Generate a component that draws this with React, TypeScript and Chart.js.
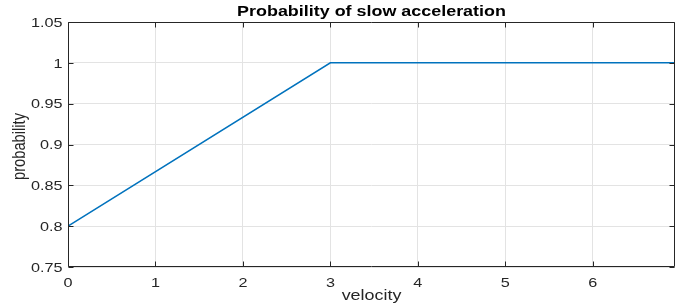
import React, { useEffect, useRef } from "react";
import { Chart, registerables } from "chart.js";

Chart.register(...registerables);

const velocity = [0, 3, 7];
const probability = [0.8, 1, 1];
const xRange = [0, 6.94];
const yRange = [0.75, 1.05];
const titleText = "Probability of slow acceleration";
const xTitle = "velocity";
const yTitle = "probability";

const STRETCH = 1.22;
const TXT = "#262626";

function stretchedText(ctx: CanvasRenderingContext2D, text: string, x: number, y: number, align: CanvasTextAlign) {
  ctx.save();
  ctx.translate(x, y);
  ctx.scale(STRETCH, 1);
  ctx.textAlign = align;
  ctx.fillText(text, 0, 0);
  ctx.restore();
}

const fmt = (v: number) => parseFloat(v.toFixed(2)).toString();

const decorPlugin = {
  id: "matlabDecor",
  afterDraw(chart: any) {
    const ctx: CanvasRenderingContext2D = chart.ctx;
    const a = chart.chartArea;
    const xs = chart.scales.x;
    const ys = chart.scales.y;
    const L = Math.round(a.left) + 0.5;
    const R = Math.round(a.right) - 0.5;
    const T = Math.round(a.top) + 0.5;
    const B = Math.round(a.bottom) - 0.5;
    ctx.save();
    ctx.strokeStyle = TXT;
    ctx.lineWidth = 1;
    ctx.beginPath();
    ctx.rect(L, T, R - L, B - T);
    ctx.stroke();
    const tl = 5;
    ctx.beginPath();
    xs.ticks.forEach((t: any) => {
      if (t.value > xs.max + 1e-9) return;
      const px = Math.round(xs.getPixelForValue(t.value)) + 0.5;
      ctx.moveTo(px, B);
      ctx.lineTo(px, B - tl);
      ctx.moveTo(px, T);
      ctx.lineTo(px, T + tl);
    });
    ys.ticks.forEach((t: any) => {
      const py = Math.round(ys.getPixelForValue(t.value)) + 0.5;
      ctx.moveTo(L, py);
      ctx.lineTo(L + tl, py);
      ctx.moveTo(R, py);
      ctx.lineTo(R - tl, py);
    });
    ctx.stroke();

    ctx.fillStyle = TXT;
    ctx.font = '13.3px "Liberation Sans", Arial, sans-serif';
    ctx.textBaseline = "alphabetic";
    xs.ticks.forEach((t: any) => {
      if (t.value > xs.max + 1e-9) return;
      const px = xs.getPixelForValue(t.value);
      stretchedText(ctx, fmt(t.value), px, B + 20.5, "center");
    });
    ys.ticks.forEach((t: any) => {
      const py = ys.getPixelForValue(t.value);
      stretchedText(ctx, fmt(t.value), L - 6, py + 4.7, "right");
    });

    ctx.font = '14.7px "Liberation Sans", Arial, sans-serif';
    const cx = (a.left + a.right) / 2;
    stretchedText(ctx, xTitle, cx, 299.5, "center");

    ctx.save();
    ctx.translate(25, (a.top + a.bottom) / 2 + 2);
    ctx.rotate(-Math.PI / 2);
    ctx.scale(1, STRETCH);
    ctx.textAlign = "center";
    ctx.textBaseline = "alphabetic";
    ctx.fillText(yTitle, 0, 0);
    ctx.restore();

    ctx.fillStyle = "#000";
    ctx.font = 'bold 14.7px "Liberation Sans", Arial, sans-serif';
    stretchedText(ctx, titleText, cx, 16, "center");
    ctx.restore();
  },
};

export default function App() {
  const ref = useRef<HTMLCanvasElement | null>(null);
  useEffect(() => {
    document.body.style.margin = "0";
    const canvas = ref.current!;
    const chart = new Chart(canvas, {
      type: "line",
      data: {
        datasets: [
          {
            data: velocity.map((v, i) => ({ x: v, y: probability[i] })),
            borderColor: "#0072BD",
            borderWidth: 1.5,
            pointRadius: 0,
            tension: 0,
            fill: false,
          },
        ],
      },
      options: {
        animation: false,
        responsive: false,
        devicePixelRatio: 1,
        layout: { padding: { left: 68, right: 1, top: 22, bottom: 41 } },
        plugins: { legend: { display: false }, tooltip: { enabled: false }, title: { display: false } },
        scales: {
          x: {
            type: "linear",
            min: xRange[0],
            max: xRange[1],
            ticks: { display: false, stepSize: 1, includeBounds: false },
            grid: { color: "#e3e3e3", drawTicks: false, lineWidth: 1 },
            border: { display: false },
            afterFit: (s: any) => { s.height = 0; },
          },
          y: {
            type: "linear",
            min: yRange[0],
            max: yRange[1],
            ticks: { display: false, stepSize: 0.05, includeBounds: false },
            grid: { color: "#e3e3e3", drawTicks: false, lineWidth: 1 },
            border: { display: false },
            afterFit: (s: any) => { s.width = 0; },
          },
        },
      },
      plugins: [decorPlugin],
    });
    return () => chart.destroy();
  }, []);
  return <canvas ref={ref} width={676} height={308} style={{ display: "block" }} />;
}
